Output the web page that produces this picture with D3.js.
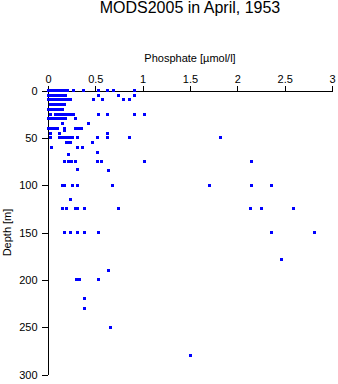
<!DOCTYPE html>
<html>
<head>
<meta charset="utf-8">
<script src="https://cdn.jsdelivr.net/npm/d3@7"></script>
<style>
  html, body { margin: 0; padding: 0; background: #fff; }
  svg { display: block; font-family: "Liberation Sans", Arial, sans-serif; }
</style>
</head>
<body>
<svg id="chart" width="338" height="384"></svg>
<script>
// Observation depths (m) and the phosphate readings (µmol/l) taken at each depth
const depthLevels = [0, 5, 10, 15, 20, 25, 30, 35, 40, 42, 45, 50, 55, 60, 65, 68, 75, 83, 85, 100, 115, 125, 150, 179, 190, 200, 220, 230, 250, 280];
const phosphateByLevel = [
  [0.01, 0.03, 0.05, 0.07, 0.09, 0.11, 0.13, 0.15, 0.17, 0.19, 0.21, 0.27, 0.37, 0.53, 0.63, 0.69, 0.91],
  [0.01, 0.03, 0.05, 0.07, 0.09, 0.11, 0.13, 0.15, 0.17, 0.19, 0.53, 0.74, 0.91],
  [0.0, 0.02, 0.04, 0.06, 0.08, 0.10, 0.12, 0.14, 0.16, 0.18, 0.20, 0.22, 0.24, 0.48, 0.58, 0.80, 0.86],
  [0.03, 0.05, 0.07, 0.09, 0.11, 0.13, 0.15, 0.17],
  [0.01, 0.03, 0.05, 0.07, 0.09, 0.11, 0.13, 0.15],
  [0.03, 0.08, 0.10, 0.12, 0.14, 0.16, 0.18, 0.20, 0.22, 0.24, 0.27, 0.53, 0.63, 0.91, 1.02],
  [0.01, 0.03, 0.05, 0.07, 0.09, 0.11, 0.13, 0.15, 0.18, 0.29],
  [0.15, 0.43],
  [0.0, 0.02, 0.04, 0.06, 0.08, 0.10, 0.17, 0.29, 0.32, 0.35],
  [0.17],
  [0.03, 0.12, 0.63],
  [0.03, 0.12, 0.14, 0.16, 0.18, 0.20, 0.22, 0.24, 0.26, 0.31, 0.52, 0.63, 0.86, 1.82],
  [0.20, 0.22, 0.24, 0.47],
  [0.04, 0.31, 0.36],
  [0.52],
  [0.22],
  [0.17, 0.22, 0.25, 0.29, 0.52, 0.57, 1.02, 2.15],
  [0.31],
  [0.64],
  [0.15, 0.17, 0.26, 0.31, 0.68, 1.71, 2.15, 2.36],
  [0.24],
  [0.15, 0.20, 0.29, 0.31, 0.39, 0.74, 2.14, 2.26, 2.59],
  [0.17, 0.24, 0.31, 0.39, 0.53, 2.36, 2.81],
  [2.47],
  [0.64],
  [0.30, 0.33, 0.53],
  [0.39],
  [0.39],
  [0.66],
  [1.50]
];
const xTickValues = [0, 0.5, 1, 1.5, 2, 2.5, 3];
const yTickValues = [0, 50, 100, 150, 200, 250, 300];

const title = "MODS2005 in April, 1953";
const xTitle = "Phosphate [\u00b5mol/l]";
const yTitle = "Depth [m]";

const svg = d3.select("#chart");
const plot = { left: 48, right: 332, top: 90.5, bottom: 374.5 };

const x = d3.scaleLinear().domain([0, 3]).range([plot.left, plot.right]);
const y = d3.scaleLinear().domain([0, 300]).range([plot.top, plot.bottom]);

// Flatten the per-depth readings into points
const points = [];
depthLevels.forEach((d, i) => {
  phosphateByLevel[i].forEach(v => points.push({ depth: d, value: v }));
});

// Title
svg.append("text")
  .attr("x", (plot.left + plot.right) / 2)
  .attr("y", 13)
  .attr("text-anchor", "middle")
  .attr("font-size", 16)
  .text(title);

// Top x axis
const xAxis = svg.append("g")
  .attr("transform", `translate(0,${plot.top})`)
  .call(d3.axisTop(x).tickValues(xTickValues).tickFormat(d3.format("")).tickSize(5).tickSizeOuter(0).tickPadding(3));

// Left y axis
const yAxis = svg.append("g")
  .attr("transform", `translate(${plot.left - 0.5},0)`)
  .call(d3.axisLeft(y).tickValues(yTickValues).tickSize(6).tickSizeOuter(0).tickPadding(4));

[xAxis, yAxis].forEach(g => {
  g.selectAll("path, line").attr("stroke", "#000").attr("stroke-width", 1).attr("shape-rendering", "crispEdges");
  g.selectAll("text").attr("fill", "#000").attr("font-size", 11).attr("font-family", "\"Liberation Sans\", Arial, sans-serif");
});

// Axis titles
svg.append("text")
  .attr("x", (plot.left + plot.right) / 2)
  .attr("y", 62)
  .attr("text-anchor", "middle")
  .attr("font-size", 11)
  .text(xTitle);

svg.append("text")
  .attr("transform", `translate(11,${(plot.top + plot.bottom) / 2}) rotate(-90)`)
  .attr("text-anchor", "middle")
  .attr("font-size", 11)
  .text(yTitle);

// Observations as small square markers
const markerSize = 3;
svg.append("g")
  .selectAll("rect")
  .data(points)
  .join("rect")
  .attr("x", d => Math.round(x(d.value) - markerSize / 2))
  .attr("y", d => Math.round(y(d.depth) - markerSize / 2))
  .attr("width", markerSize)
  .attr("height", markerSize)
  .attr("fill", "#0000ff")
  .attr("shape-rendering", "crispEdges");
</script>
</body>
</html>
